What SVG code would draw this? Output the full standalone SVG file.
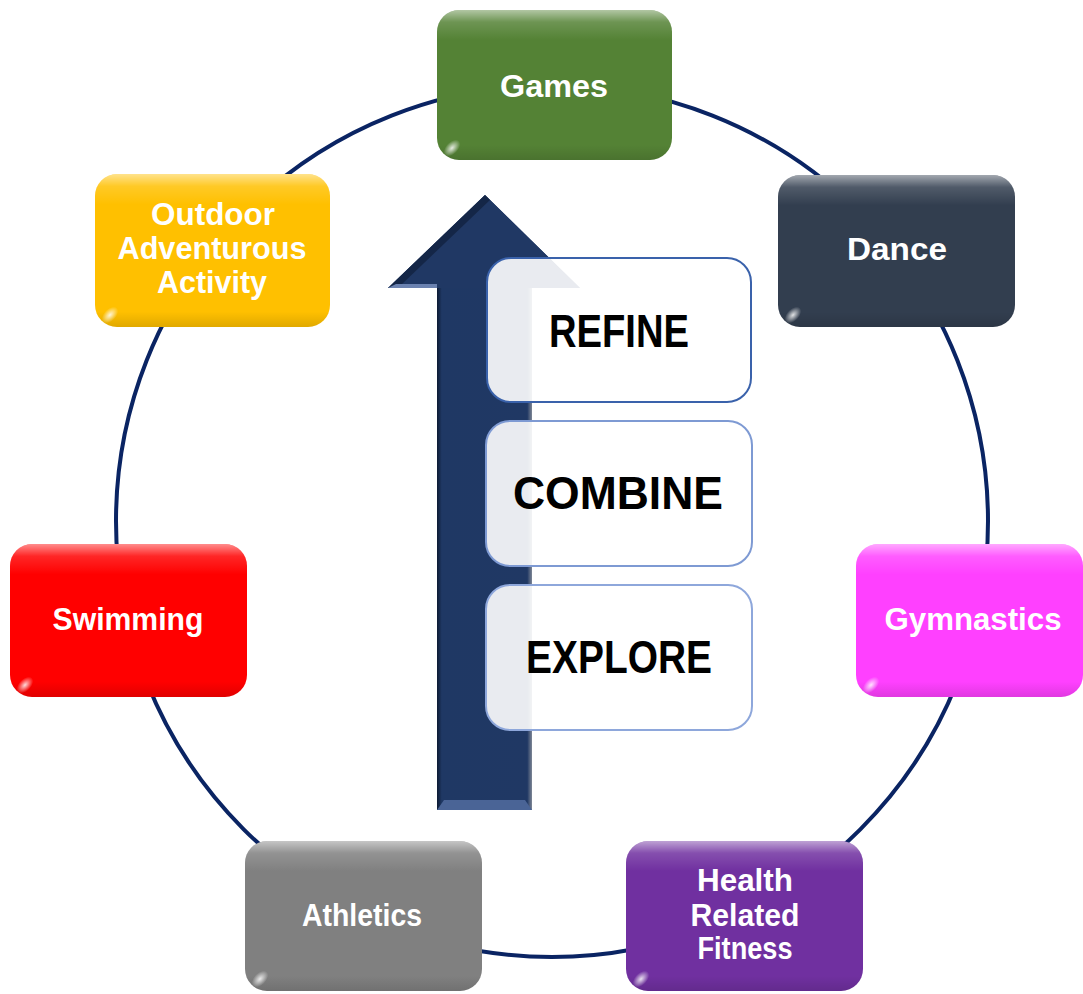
<svg xmlns="http://www.w3.org/2000/svg" width="1083" height="994" viewBox="0 0 1083 994">
<defs>
<linearGradient id="gloss" x1="0" y1="0" x2="0" y2="1">
<stop offset="0" stop-color="#fff" stop-opacity="0.55"/>
<stop offset="0.08" stop-color="#fff" stop-opacity="0.15"/>
<stop offset="0.2" stop-color="#fff" stop-opacity="0"/>
<stop offset="0.9" stop-color="#000" stop-opacity="0"/>
<stop offset="1" stop-color="#000" stop-opacity="0.12"/>
</linearGradient>
<linearGradient id="shaft" x1="0" y1="0" x2="1" y2="0">
<stop offset="0" stop-color="#0d1a33"/>
<stop offset="0.05" stop-color="#1f3864"/>
<stop offset="0.95" stop-color="#203864"/>
<stop offset="1" stop-color="#7f8796"/>
</linearGradient>
<radialGradient id="glint" cx="0.5" cy="0.5" r="0.5">
<stop offset="0" stop-color="#fff" stop-opacity="0.85"/>
<stop offset="1" stop-color="#fff" stop-opacity="0"/>
</radialGradient>
</defs>
<style>
.node text{font-family:"Liberation Sans",Arial,sans-serif;font-weight:bold;font-size:32px;fill:#fff;text-anchor:middle}
.step text{font-family:"Liberation Sans",Arial,sans-serif;font-weight:bold;font-size:46px;fill:#000;text-anchor:middle}
.gl{fill:url(#gloss)}
.step rect{fill:#fff;fill-opacity:0.9;stroke-width:2}
</style>
<rect width="1083" height="994" fill="#fff"/>
<g id="connectors">
<circle cx="552" cy="521" r="436" fill="none" stroke="#0a2463" stroke-width="4"/>
</g>
<g id="arrow">
<path d="M437,810 L437,288 L388,288 L485,195 L580,288 L532,288 L532,810 Z" fill="#1f3864"/>
<rect x="437" y="288" width="95" height="522" fill="url(#shaft)"/>
<path d="M388,288 L485,195 L580,288 Z" fill="#203864"/>
<path d="M388,288 L485,195 L490,200 L400,286 Z" fill="#0d1a33" opacity="0.6"/>
<path d="M388,288 L437,288 L437,284 L396,284 Z" fill="#6b82b0"/>
<path d="M437,810 L532,810 L525,800 L444,800 Z" fill="#4a6496"/>
</g>
<g id="step-refine" class="step">
<rect x="487" y="258" width="264" height="144" rx="24" stroke="#3a62ab"/>
<text x="619" y="347" textLength="140" lengthAdjust="spacingAndGlyphs">REFINE</text>
</g>
<g id="step-combine" class="step">
<rect x="486" y="421" width="266" height="145" rx="24" stroke="#7e9ad3"/>
<text x="618" y="509" textLength="210" lengthAdjust="spacingAndGlyphs">COMBINE</text>
</g>
<g id="step-explore" class="step">
<rect x="486" y="585" width="266" height="145" rx="24" stroke="#8ea7db"/>
<text x="619" y="673" textLength="186" lengthAdjust="spacingAndGlyphs">EXPLORE</text>
</g>
<g id="node-games" class="node">
<rect x="437" y="10" width="235" height="150" rx="22" fill="#548235"/>
<rect x="437" y="10" width="235" height="150" rx="22" class="gl"/>
<ellipse cx="452" cy="148" rx="10" ry="6" fill="url(#glint)" transform="rotate(-45 452 148)"/>
<text x="554" y="97" textLength="108" lengthAdjust="spacingAndGlyphs">Games</text>
</g>
<g id="node-dance" class="node">
<rect x="778" y="175" width="237" height="152" rx="22" fill="#323e4f"/>
<rect x="778" y="175" width="237" height="152" rx="22" class="gl"/>
<ellipse cx="793" cy="315" rx="10" ry="6" fill="url(#glint)" transform="rotate(-45 793 315)"/>
<text x="897" y="260" textLength="100" lengthAdjust="spacingAndGlyphs">Dance</text>
</g>
<g id="node-gymnastics" class="node">
<rect x="856" y="544" width="227" height="153" rx="22" fill="#ff40ff"/>
<rect x="856" y="544" width="227" height="153" rx="22" class="gl"/>
<ellipse cx="871" cy="685" rx="10" ry="6" fill="url(#glint)" transform="rotate(-45 871 685)"/>
<text x="973" y="630" textLength="177" lengthAdjust="spacingAndGlyphs">Gymnastics</text>
</g>
<g id="node-health" class="node">
<rect x="626" y="841" width="237" height="150" rx="22" fill="#7030a0"/>
<rect x="626" y="841" width="237" height="150" rx="22" class="gl"/>
<ellipse cx="641" cy="979" rx="10" ry="6" fill="url(#glint)" transform="rotate(-45 641 979)"/>
<text x="745" y="891" textLength="96" lengthAdjust="spacingAndGlyphs">Health</text>
<text x="745" y="926" textLength="109" lengthAdjust="spacingAndGlyphs">Related</text>
<text x="745" y="959" textLength="95" lengthAdjust="spacingAndGlyphs">Fitness</text>
</g>
<g id="node-athletics" class="node">
<rect x="245" y="841" width="237" height="150" rx="22" fill="#808080"/>
<rect x="245" y="841" width="237" height="150" rx="22" class="gl"/>
<ellipse cx="260" cy="979" rx="10" ry="6" fill="url(#glint)" transform="rotate(-45 260 979)"/>
<text x="362" y="926" textLength="120" lengthAdjust="spacingAndGlyphs">Athletics</text>
</g>
<g id="node-swimming" class="node">
<rect x="10" y="544" width="237" height="153" rx="22" fill="#ff0000"/>
<rect x="10" y="544" width="237" height="153" rx="22" class="gl"/>
<ellipse cx="25" cy="685" rx="10" ry="6" fill="url(#glint)" transform="rotate(-45 25 685)"/>
<text x="128" y="630" textLength="151" lengthAdjust="spacingAndGlyphs">Swimming</text>
</g>
<g id="node-outdoor" class="node">
<rect x="95" y="174" width="235" height="153" rx="22" fill="#ffc000"/>
<rect x="95" y="174" width="235" height="153" rx="22" class="gl"/>
<ellipse cx="110" cy="315" rx="10" ry="6" fill="url(#glint)" transform="rotate(-45 110 315)"/>
<text x="213" y="225" textLength="124" lengthAdjust="spacingAndGlyphs">Outdoor</text>
<text x="212" y="259" textLength="189" lengthAdjust="spacingAndGlyphs">Adventurous</text>
<text x="212" y="293" textLength="110" lengthAdjust="spacingAndGlyphs">Activity</text>
</g>
</svg>
